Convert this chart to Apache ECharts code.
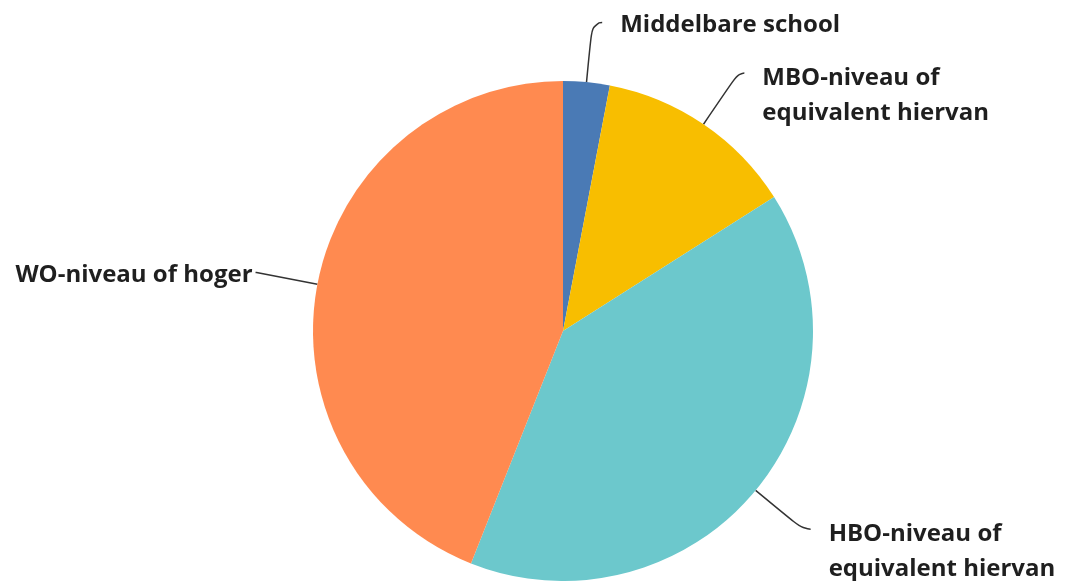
<!DOCTYPE html>
<html>
<head>
<meta charset="utf-8">
<script src="https://cdn.jsdelivr.net/npm/echarts@6/dist/echarts.min.js"></script>
<style>
html,body{margin:0;padding:0;background:#ffffff;}
#chart{width:1071px;height:581px;}
</style>
</head>
<body>
<div id="chart"></div>
<script>
// ---- data ----
const categories = [
  'Middelbare school',
  'MBO-niveau of\nequivalent hiervan',
  'HBO-niveau of\nequivalent hiervan',
  'WO-niveau of hoger'
];
const values = [3, 13, 40, 44];

// ---- styling (separate from data) ----
const sliceColors = ['#4A7AB5', '#F8BE00', '#6CC8CC', '#FF8A50'];
const labelLines = [
  { length: 60, length2: 10 },
  { length: 62, length2: 6 },
  { length: 61, length2: 8 },
  { length: 62, length2: 1 }
];
const labelDist = [18, 18, 18, 3];

const chart = echarts.init(document.getElementById('chart'), null, { renderer: 'canvas' });

const seriesData = categories.map((name, i) => ({
  name: name,
  value: values[i],
  itemStyle: { color: sliceColors[i] },
  label: { distanceToLabelLine: labelDist[i] },
  labelLine: labelLines[i]
}));

chart.setOption({
  animation: false,
  backgroundColor: '#ffffff',
  series: [{
    type: 'pie',
    center: [563, 331],
    radius: 250,
    startAngle: 90,
    clockwise: true,
    avoidLabelOverlap: false,
    labelLayout: { hideOverlap: false },
    itemStyle: { borderWidth: 0 },
    label: {
      show: true,
      position: 'outside',
      fontFamily: 'Open Sans',
      fontWeight: 'bold',
      fontSize: 24,
      lineHeight: 35,
      color: '#1f1f1f',
      formatter: function (p) {
        return (p.name.indexOf('\n') >= 0 ? '{sp| }\n' : '{sm| }\n') + p.name;
      },
      rich: {
        sp: { fontSize: 2, lineHeight: 45, height: 45 },
        sm: { fontSize: 2, lineHeight: 5, height: 5 }
      }
    },
    labelLine: {
      show: true,
      smooth: 0.7,
      lineStyle: { color: '#333333', width: 1.5 }
    },
    data: seriesData
  }]
});
</script>
</body>
</html>
